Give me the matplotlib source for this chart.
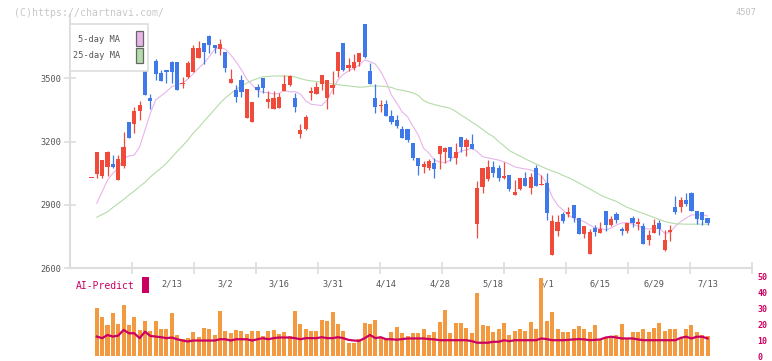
import matplotlib
matplotlib.use("Agg")
import matplotlib.pyplot as plt
from matplotlib.patches import Rectangle
import numpy as np

# ---------------- data ----------------
opens = [3028, 3047, 3039, 3081, 3094, 3020, 3086, 3293, 3285, 3347,
         3559, 3407, 3584, 3524, 3538, 3578, 3578, 3473, 3508, 3532,
         3598, 3668, 3701, 3657, 3641, 3625, 3480, 3445, 3492, 3314,
         3295, 3458, 3502, 3388, 3356, 3361, 3440, 3467, 3407, 3236,
         3262, 3432, 3427, 3475, 3408, 3454, 3535, 3668, 3548, 3548,
         3579, 3758, 3535, 3407, 3371, 3378, 3322, 3304, 3262, 3260,
         3194, 3123, 3080, 3075, 3099, 3143, 3153, 3175, 3124, 3222,
         3175, 3189, 2810, 2987, 3025, 3080, 3074, 3029, 3044, 2949,
         2976, 3028, 2982, 3075, 2996, 3004, 2663, 2778, 2857, 2856,
         2900, 2838, 2764, 2668, 2792, 2769, 2872, 2805, 2857, 2785,
         2777, 2838, 2808, 2799, 2734, 2766, 2816, 2687, 2772, 2889,
         2889, 2924, 2957, 2870, 2867, 2838]
highs = [3028, 3150, 3115, 3156, 3137, 3137, 3246, 3293, 3363, 3394,
         3559, 3426, 3590, 3540, 3538, 3584, 3578, 3505, 3580, 3658,
         3675, 3668, 3707, 3657, 3686, 3625, 3543, 3469, 3516, 3450,
         3388, 3472, 3502, 3439, 3439, 3432, 3516, 3515, 3431, 3284,
         3327, 3461, 3484, 3516, 3492, 3535, 3625, 3668, 3598, 3616,
         3619, 3758, 3574, 3473, 3399, 3398, 3350, 3327, 3274, 3260,
         3194, 3123, 3108, 3118, 3124, 3180, 3175, 3175, 3194, 3222,
         3219, 3235, 3014, 3074, 3113, 3108, 3090, 3102, 3044, 3018,
         3028, 3055, 3053, 3091, 3044, 3050, 2853, 2853, 2868, 2892,
         2900, 2838, 2802, 2788, 2805, 2819, 2872, 2848, 2867, 2797,
         2815, 2849, 2838, 2813, 2781, 2832, 2829, 2782, 2805, 2943,
         2939, 2955, 2962, 2870, 2867, 2838]
lows = [3028, 3030, 3030, 3037, 3075, 3020, 3074, 3216, 3240, 3303,
        3423, 3353, 3492, 3489, 3480, 3480, 3445, 3453, 3500, 3532,
        3598, 3570, 3622, 3622, 3612, 3529, 3480, 3386, 3413, 3314,
        3295, 3413, 3430, 3358, 3356, 3361, 3440, 3465, 3342, 3219,
        3255, 3398, 3427, 3446, 3355, 3425, 3508, 3537, 3537, 3540,
        3560, 3595, 3475, 3337, 3342, 3323, 3284, 3263, 3216, 3197,
        3115, 3044, 3053, 3066, 3029, 3069, 3100, 3110, 3094, 3153,
        3132, 3164, 2745, 2955, 3014, 3031, 3015, 3022, 2965, 2949,
        2971, 2991, 2954, 2991, 2996, 2829, 2663, 2752, 2813, 2845,
        2821, 2761, 2745, 2668, 2753, 2769, 2778, 2800, 2816, 2758,
        2769, 2797, 2783, 2715, 2710, 2766, 2758, 2683, 2731, 2856,
        2868, 2897, 2872, 2810, 2805, 2805]
closes = [3028, 3150, 3113, 3150, 3079, 3117, 3175, 3216, 3345, 3374,
          3423, 3391, 3519, 3489, 3532, 3532, 3445, 3480, 3574, 3644,
          3644, 3627, 3660, 3645, 3663, 3551, 3496, 3413, 3437, 3450,
          3388, 3445, 3453, 3404, 3407, 3412, 3472, 3511, 3366, 3255,
          3317, 3439, 3459, 3516, 3492, 3470, 3625, 3541, 3563, 3578,
          3619, 3602, 3475, 3366, 3375, 3323, 3295, 3273, 3219, 3209,
          3124, 3083, 3094, 3108, 3072, 3180, 3172, 3124, 3153, 3175,
          3209, 3165, 2981, 3074, 3079, 3050, 3027, 3039, 2976, 2963,
          3028, 2991, 3031, 2991, 3001, 2863, 2824, 2819, 2824, 2868,
          2837, 2764, 2802, 2772, 2773, 2785, 2805, 2832, 2830, 2777,
          2815, 2813, 2819, 2715, 2758, 2805, 2786, 2734, 2782, 2867,
          2924, 2905, 2872, 2832, 2829, 2816]

# moving averages (start at candle 1)
ma5 = [2908, 2963, 3018, 3050, 3074, 3121, 3132, 3137, 3176, 3255,
       3335, 3398, 3417, 3437, 3461, 3469, 3477, 3496, 3521, 3548,
       3571, 3603, 3638, 3647, 3638, 3611, 3579, 3540, 3496, 3469,
       3442, 3434, 3432, 3426, 3429, 3442, 3436, 3437, 3426, 3393,
       3377, 3374, 3371, 3398, 3445, 3492, 3519, 3535, 3548, 3563,
       3587, 3579, 3567, 3532, 3484, 3421, 3382, 3341, 3318, 3274,
       3232, 3169, 3146, 3113, 3104, 3100, 3113, 3137, 3156, 3161,
       3169, 3153, 3129, 3123, 3118, 3113, 3104, 3094, 3081, 3075,
       3071, 3066, 3056, 3037, 3003, 2939, 2900, 2876, 2853, 2837,
       2829, 2821, 2805, 2791, 2790, 2782, 2791, 2805, 2815, 2816,
       2810, 2800, 2790, 2786, 2790, 2790, 2766, 2769, 2800, 2821,
       2838, 2853, 2853, 2853, 2848]
ma25 = [2842, 2855, 2868, 2888, 2907, 2926, 2947, 2966, 2988, 3007,
        3033, 3054, 3075, 3098, 3125, 3154, 3180, 3208, 3240, 3267,
        3296, 3324, 3353, 3382, 3407, 3428, 3447, 3464, 3478, 3490,
        3499, 3507, 3509, 3511, 3511, 3511, 3510, 3507, 3499, 3492,
        3488, 3485, 3483, 3478, 3473, 3471, 3466, 3464, 3461, 3458,
        3459, 3463, 3464, 3463, 3461, 3457, 3447, 3443, 3438, 3431,
        3419, 3395, 3383, 3376, 3369, 3364, 3358, 3343, 3326, 3310,
        3293, 3277, 3258, 3239, 3224, 3201, 3180, 3158, 3144, 3132,
        3118, 3106, 3094, 3082, 3071, 3061, 3052, 3040, 3030, 3018,
        3004, 2990, 2976, 2962, 2947, 2936, 2926, 2917, 2902, 2889,
        2879, 2869, 2860, 2850, 2841, 2831, 2822, 2816, 2811, 2810,
        2809, 2809, 2809, 2809, 2809]

# lower panel (start at candle 1)
volume = [30.6, 24.4, 19.4, 26.9, 20.0, 32.5, 19.4, 24.4, 16.2, 21.9,
          15.6, 21.9, 16.9, 16.9, 27.5, 13.1, 10.6, 11.2, 15.0, 11.9,
          17.5, 16.9, 13.1, 28.7, 15.6, 14.4, 16.2, 15.6, 13.7, 15.6,
          15.6, 12.5, 15.6, 16.2, 13.7, 15.0, 12.5, 28.7, 20.0, 16.9,
          15.6, 15.6, 23.1, 21.9, 28.1, 20.0, 15.6, 8.1, 8.1, 10.6,
          21.2, 20.0, 23.1, 11.9, 11.2, 15.0, 18.1, 14.3, 12.5, 14.3,
          14.3, 16.8, 13.6, 14.9, 21.8, 29.4, 14.3, 21.2, 21.2, 18.0,
          14.3, 40.0, 19.9, 18.7, 14.9, 16.8, 21.2, 13.6, 16.1, 16.8,
          16.1, 21.8, 17.4, 49.5, 22.4, 28.1, 17.4, 14.9, 15.5, 17.4,
          19.3, 16.8, 15.5, 19.9, 10.5, 11.1, 11.1, 13.0, 20.5, 11.1,
          14.9, 14.9, 17.4, 14.9, 18.0, 21.2, 16.1, 16.8, 17.4, 11.1,
          17.4, 19.9, 14.9, 13.0, 12.4]
ai_predict = [12.3, 11.3, 13.3, 12.3, 12.9, 16.5, 14.4, 14.4, 11.3, 15.4,
              12.7, 12.3, 11.9, 11.3, 11.7, 10.6, 9.8, 9.2, 9.8, 9.8,
              9.8, 9.8, 9.8, 10.6, 10.6, 9.8, 10.6, 10.6, 10.6, 9.8,
              10.6, 11.3, 10.6, 11.3, 11.7, 11.7, 11.7, 11.3, 10.6, 11.3,
              11.3, 11.3, 11.9, 11.3, 11.3, 11.9, 11.3, 10.2, 9.8, 9.6,
              11.3, 13.3, 11.3, 11.9, 10.6, 10.6, 10.3, 10.7, 11.1, 11.1,
              11.1, 11.1, 10.7, 10.5, 10.0, 10.0, 10.0, 10.0, 10.0, 10.0,
              9.4, 8.4, 8.4, 8.4, 9.0, 9.0, 10.0, 9.4, 10.0, 10.0,
              10.0, 10.0, 10.0, 11.1, 10.7, 10.0, 10.0, 10.0, 10.2, 10.5,
              10.7, 10.5, 10.0, 10.2, 10.5, 11.7, 12.2, 11.7, 11.1, 11.1,
              11.1, 10.5, 10.0, 10.0, 10.0, 10.0, 10.0, 10.0, 10.0, 11.5,
              12.2, 11.1, 12.2, 12.2, 11.1]

date_labels = ["2/13", "3/2", "3/16", "3/31", "4/14", "4/28",
               "5/18", "6/1", "6/15", "6/29", "7/13"]
date_label_idx = [15, 25, 35, 45, 55, 65, 75, 85, 95, 105, 115]
price_ticks = [2600, 2900, 3200, 3500]
vol_ticks = [0, 10, 20, 30, 40, 50]

# ---------------- style ----------------
W, H = 772, 361
UP = "#ef4a3a"
DOWN = "#3f78e8"
MA5_C = "#e8b4ea"
MA25_C = "#b4dca8"
VOL_C = "#f39a40"
AI_C = "#cc0060"
AXC = "#dddddd"
TXT = "#555555"
FONT = "DejaVu Sans Mono"
plt.rcParams["font.family"] = FONT

fig = plt.figure(figsize=(W / 100, H / 100), dpi=100)
fig.patch.set_facecolor("white")


def fbox(x0, y0, x1, y1):
    return [x0 / W, 1 - y1 / H, (x1 - x0) / W, (y1 - y0) / H]


XMIN, XMAX = -4.0, 123.3
ax = fig.add_axes(fbox(70, 15, 752, 268.3))
ax.set_xlim(XMIN, XMAX)
ax.set_ylim(2600, 3800)
ax.patch.set_alpha(0)

n = len(opens)
xs = np.arange(n)
o = np.array(opens, float)
c = np.array(closes, float)
hi = np.array(highs, float)
lo = np.array(lows, float)
cols = [UP if cc >= oo else DOWN for oo, cc in zip(o, c)]
ax.vlines(xs, lo, hi, colors=cols, linewidth=0.9, zorder=3)
bottoms = np.minimum(o, c)
heights = np.maximum(np.abs(c - o), 4.0)
ax.bar(xs, heights, bottom=bottoms, width=0.78, color=cols, zorder=4, linewidth=0)

ax.plot(np.arange(1, 1 + len(ma5)), ma5, color=MA5_C, lw=0.8, zorder=2)
ax.plot(np.arange(1, 1 + len(ma25)), ma25, color=MA25_C, lw=0.8, zorder=2)

for s in ["top", "right"]:
    ax.spines[s].set_visible(False)
for s in ["left", "bottom"]:
    ax.spines[s].set_color(AXC)
    ax.spines[s].set_linewidth(1.5)

ax.set_yticks(price_ticks)
ax.set_yticklabels([str(v) for v in price_ticks])
ax.tick_params(axis="y", direction="inout", length=8, width=1.2, color=AXC,
               labelsize=6.2, labelcolor=TXT, pad=2)
ax.set_xticks(date_label_idx)
ax.set_xticklabels(date_labels)
ax.tick_params(axis="x", which="major", length=0, labelsize=6.2,
               labelcolor=TXT, pad=8)
ax.set_xticks(np.linspace(XMIN, XMAX, 12)[1:], minor=True)
ax.tick_params(axis="x", which="minor", direction="inout", length=8,
               width=1.2, color=AXC)

# legend box
lg = Rectangle((70 / W, 1 - 71 / H), 78 / W, 47 / H, transform=fig.transFigure,
               facecolor="white", edgecolor=AXC, lw=1.2, zorder=1)
fig.add_artist(lg)
for (y0, col) in [(31, MA5_C), (48, MA25_C)]:
    fig.add_artist(Rectangle((136 / W, 1 - (y0 + 15) / H), 7 / W, 15 / H,
                             transform=fig.transFigure, facecolor=col,
                             edgecolor="#666666", lw=0.9, zorder=5))
fig.text(120 / W, 1 - 39 / H, "5-day MA", ha="right", va="center",
         fontsize=6.2, color=TXT, zorder=6)
fig.text(120 / W, 1 - 56 / H, "25-day MA", ha="right", va="center",
         fontsize=6.2, color=TXT, zorder=6)

fig.text(14 / W, 1 - 12.5 / H, "(C)https://chartnavi.com/", ha="left",
         va="center", fontsize=7.1, color="#c8c8c8")
fig.text(757 / W, 1 - 12.5 / H, "4507", ha="right", va="center",
         fontsize=6.2, color="#c0c0c0")

# ---------------- lower panel ----------------
ax2 = fig.add_axes(fbox(70, 277, 752, 356))
ax2.set_xlim(XMIN, XMAX)
ax2.set_ylim(0, 50)
ax2.patch.set_alpha(0)
xv = np.arange(1, 1 + len(volume))
ax2.bar(xv, volume, width=0.75, color=VOL_C, linewidth=0, zorder=2)
ax2.plot(np.arange(1, 1 + len(ai_predict)), ai_predict, color=AI_C, lw=1.6,
         zorder=3)
for s in ax2.spines.values():
    s.set_visible(False)
ax2.set_xticks([])
ax2.yaxis.tick_right()
ax2.set_yticks(vol_ticks)
ax2.set_yticklabels([str(v) for v in vol_ticks])
ax2.tick_params(axis="y", length=0, labelsize=6.0, labelcolor=AI_C, pad=4)
for lab in ax2.get_yticklabels():
    lab.set_fontweight("bold")

fig.text(76 / W, 1 - 286 / H, "AI-Predict", ha="left", va="center",
         fontsize=7.0, color=AI_C)
fig.add_artist(Rectangle((142 / W, 1 - 293 / H), 7 / W, 16 / H,
                         transform=fig.transFigure, facecolor=AI_C,
                         edgecolor="none"))

fig.savefig("out.png", dpi=100)
